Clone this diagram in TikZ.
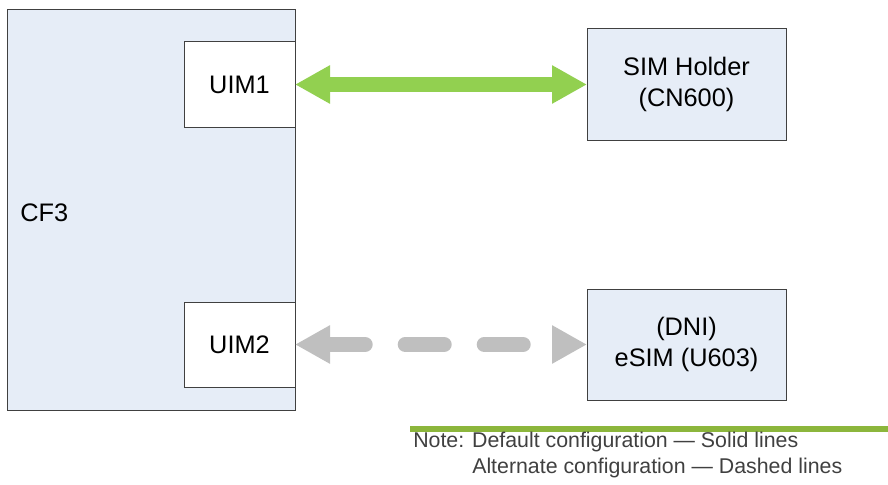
\documentclass[tikz,border=0pt]{standalone}
\usepackage{fontspec}
\setmainfont{Liberation Sans}
\usetikzlibrary{arrows.meta}
\definecolor{boxblue}{HTML}{E6EDF7}
\definecolor{simgreen}{HTML}{92D050}
\definecolor{altgray}{HTML}{BFBFBF}
\definecolor{noteline}{HTML}{8CB63C}
\definecolor{notetext}{HTML}{404040}
\tikzset{
	blockbox/.style={draw=black!75, line width=0.75pt, fill=boxblue, inner sep=0pt, outer sep=0pt,
		align=center, font=\fontsize{19}{23}\selectfont},
	uimbox/.style={blockbox, fill=white, minimum width=83.25pt, minimum height=63.75pt},
	simbox/.style={blockbox, minimum width=149.25pt, minimum height=83.25pt},
	solidlink/.style={simgreen, line width=10.5pt, {Triangle[length=26.25pt,width=27pt]}-{Triangle[length=26.25pt,width=27pt]}},
	dashlink/.style={altgray, line width=11.25pt, line cap=round, dash pattern=on 29.25pt off 30pt, dash phase=1.2pt,
		{Triangle[length=26.25pt,width=27pt]}-{Triangle[length=26.25pt,width=27pt]}},
	notefont/.style={text=notetext, inner sep=0pt, anchor=west, font=\fontsize{16}{19}\selectfont}
}
\begin{document}
\begin{tikzpicture}[x=0.75pt, y=-0.75pt]
			%%%%% START %%%%%
			\useasboundingbox (0, 0) rectangle (888, 485);
			
			\node[blockbox, minimum width=216pt, minimum height=300pt] (cf3) at (151, 210) {};
			\node[anchor=west, inner sep=0pt, font=\fontsize{19}{23}\selectfont] (cf3label) at (20, 213) {CF3};
			
			\node[uimbox] (uim1) at (239.5, 84.5) {UIM1};
			\node[uimbox] (uim2) at (239.5, 344.5) {UIM2};
			
			\node[simbox] (simholder) at (686.5, 84.5) {SIM Holder\\(CN600)};
			\node[simbox] (esim) at (686.5, 344.5) {(DNI)\\eSIM (U603)};
			
			\draw[solidlink] (uim1) -- (simholder);
			\draw[dashlink] (uim2) -- (esim);
			
			\coordinate (notestart) at (410, 429);
			\coordinate (noteend) at (888, 429);
			\draw[noteline, line width=4.5pt] (notestart) -- (noteend);
			\node[notefont] (note1) at (413, 442) {Note: Default configuration — Solid lines};
			\node[notefont] (note2) at (472, 468) {Alternate configuration — Dashed lines};
			%%%%% END %%%%%
\end{tikzpicture}
\end{document}
